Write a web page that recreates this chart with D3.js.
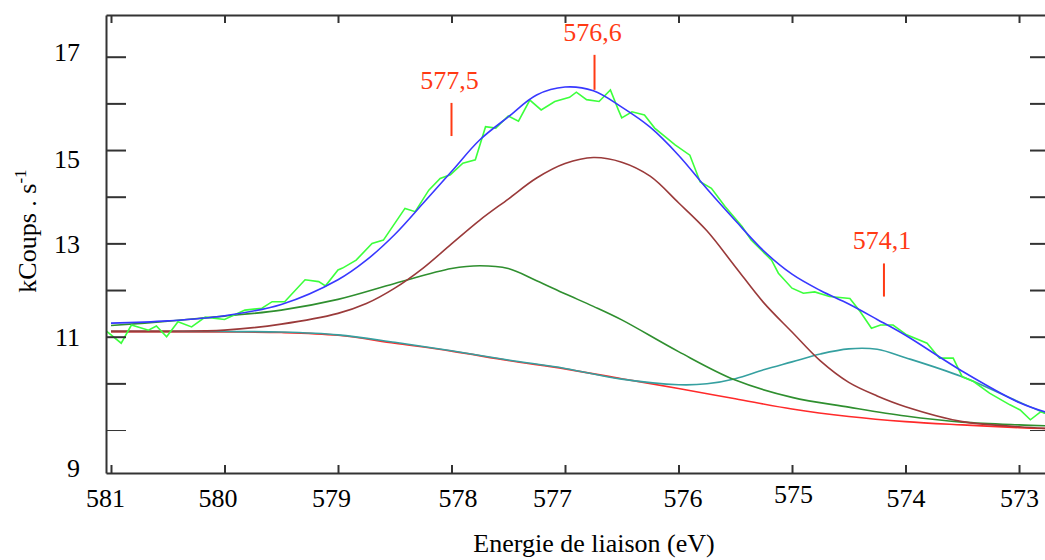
<!DOCTYPE html>
<html>
<head>
<meta charset="utf-8">
<script src="https://cdn.jsdelivr.net/npm/d3@7"></script>
<style>
  body { margin: 0; background: #fff; }
  svg text { font-family: "Liberation Serif", "Times New Roman", serif; }
</style>
</head>
<body>
<div id="chart"></div>
<script>
// XPS spectrum - fitted components (binding energy in eV, kCoups/s)

// raw measured spectrum
const dataEnergy = [581.04, 580.91, 580.82, 580.67, 580.60, 580.51, 580.41, 580.29, 580.17, 580.00,
    579.82, 579.67, 579.58, 579.47, 579.29, 579.17, 579.11, 579.00, 578.96, 578.84,
    578.70, 578.60, 578.41, 578.32, 578.20, 578.10, 578.01, 577.90, 577.79, 577.70,
    577.61, 577.50, 577.41, 577.31, 577.21, 577.09, 576.96, 576.90, 576.81, 576.70,
    576.60, 576.53, 576.50, 576.41, 576.30, 576.21, 576.03, 575.90, 575.81, 575.71,
    575.59, 575.44, 575.36, 575.18, 575.12, 575.00, 574.90, 574.80, 574.67, 574.49,
    574.40, 574.30, 574.22, 574.11, 573.99, 573.81, 573.70, 573.58, 573.50, 573.40,
    573.26, 573.08, 572.99, 572.90, 572.81, 572.77];
const dataCounts = [11.12, 10.86, 11.25, 11.14, 11.23, 11.00, 11.32, 11.21, 11.42, 11.37,
    11.57, 11.61, 11.75, 11.75, 12.22, 12.18, 12.09, 12.43, 12.47, 12.64,
    13.00, 13.07, 13.75, 13.68, 14.14, 14.39, 14.47, 14.72, 14.79, 15.50,
    15.47, 15.73, 15.62, 16.07, 15.86, 16.04, 16.13, 16.24, 16.08, 16.04,
    16.29, 15.86, 15.69, 15.82, 15.75, 15.47, 15.11, 14.89, 14.32, 14.18,
    13.79, 13.36, 13.07, 12.64, 12.36, 12.04, 11.93, 11.96, 11.86, 11.82,
    11.54, 11.18, 11.25, 11.25, 11.04, 10.86, 10.54, 10.54, 10.14, 10.04,
    9.79, 9.54, 9.43, 9.22, 9.39, 9.36];

// fitted envelope
const fitEnergy = [581, 580.5, 580, 579.5, 579, 578.75, 578.5, 578.25, 578, 577.75, 577.5, 577.25,
    577, 576.75, 576.5, 576.25, 576, 575.75, 575.5, 575.25, 575, 574.75, 574.5, 574.25,
    574, 573.5, 573, 572.73];
const fitCounts = [11.29, 11.34, 11.45, 11.69, 12.22, 12.64, 13.19, 13.86, 14.54, 15.22, 15.71, 16.18,
    16.35, 16.27, 15.92, 15.49, 14.89, 14.17, 13.49, 12.84, 12.34, 11.99, 11.70, 11.37,
    11.03, 10.26, 9.59, 9.36];

// component 576,6 (brown)
const peakBEnergy = [581, 580.5, 580, 579.5, 579, 578.75, 578.5, 578.25, 578, 577.75, 577.5, 577.25, 577,
    576.75, 576.5, 576.25, 576, 575.75, 575.5, 575.25, 575, 574.75, 574.5, 574.25, 574,
    573.5, 573, 572.73];
const peakBCounts = [11.12, 11.12, 11.14, 11.27, 11.50, 11.71, 12.04, 12.47, 12.99, 13.50, 13.95, 14.40, 14.71,
    14.84, 14.74, 14.44, 13.87, 13.27, 12.50, 11.73, 11.10, 10.48, 10.02, 9.73, 9.50,
    9.18, 9.07, 9.03];

// component 577,5 (dark green)
const peakAEnergy = [581, 580.5, 580, 579.5, 579, 578.5, 578, 577.75, 577.5, 577.25, 577, 576.75,
    576.5, 576, 575.5, 575, 574.5, 574, 573.5, 573, 572.73];
const peakACounts = [11.24, 11.33, 11.44, 11.57, 11.80, 12.14, 12.46, 12.52, 12.46, 12.20, 11.92, 11.65,
    11.36, 10.68, 10.07, 9.70, 9.49, 9.30, 9.17, 9.11, 9.09];

// component 574,1 (teal)
const peakCEnergy = [581, 580.5, 580, 579.5, 579, 578.5, 578, 577.5, 577, 576.5, 576, 575.75,
    575.5, 575.25, 575, 574.75, 574.5, 574.25, 574, 573.5, 573, 572.73];
const peakCCounts = [11.11, 11.11, 11.11, 11.10, 11.04, 10.88, 10.70, 10.50, 10.32, 10.09, 9.97, 9.99,
    10.10, 10.29, 10.46, 10.63, 10.74, 10.73, 10.55, 10.14, 9.60, 9.32];

// background (red)
const bgEnergy = [581, 580, 579.5, 579, 578.5, 578, 577.5, 577, 576.5, 576, 575.5, 575,
    574.5, 574, 573.5, 573, 572.73];
const bgCounts = [11.10, 11.10, 11.09, 11.03, 10.86, 10.69, 10.49, 10.31, 10.10, 9.89, 9.67, 9.45,
    9.29, 9.18, 9.11, 9.05, 9.03];

const xTicks = [581, 580, 579, 578, 577, 576, 575, 574, 573];
const yTicks = [9, 10, 11, 12, 13, 14, 15, 16, 17];
const yTickLabels = [9, 11, 13, 15, 17];

const annoLabels = ["577,5", "576,6", "574,1"];
const annoEnergy = [578.0, 576.74, 574.19];
const annoTop = [16.01, 17.04, 12.57];
const annoBottom = [15.30, 16.29, 11.86];

const width = 1045;
const height = 560;

const svg = d3.select("#chart").append("svg")
    .attr("width", width)
    .attr("height", height)
    .style("background", "#fff");

const x = d3.scaleLinear()
    .domain([581.044, 572.727])
    .range([106, 1050]);

const y = d3.scaleLinear()
    .domain([8.079, 17.894])
    .range([473, 15]);

// curves
const zip = (es, vs) => es.map((e, i) => ({ e, v: vs[i] }));

const smooth = d3.line()
    .x(d => x(d.e))
    .y(d => y(d.v))
    .curve(d3.curveCatmullRom.alpha(0.5));

const raw = d3.line()
    .x(d => x(d.e))
    .y(d => y(d.v));

const series = [
    { pts: zip(bgEnergy, bgCounts), color: "#ff2a2a", line: smooth },
    { pts: zip(peakCEnergy, peakCCounts), color: "#35a0a0", line: smooth },
    { pts: zip(peakAEnergy, peakACounts), color: "#2f8f2f", line: smooth },
    { pts: zip(peakBEnergy, peakBCounts), color: "#9a3a3a", line: smooth },
    { pts: zip(dataEnergy, dataCounts), color: "#3cff3c", line: raw },
    { pts: zip(fitEnergy, fitCounts), color: "#3838ff", line: smooth }
];

const plot = svg.append("g");

plot.selectAll("path.curve")
    .data(series)
    .join("path")
    .attr("class", "curve")
    .attr("d", d => d.line(d.pts))
    .attr("fill", "none")
    .attr("stroke", d => d.color)
    .attr("stroke-width", 1.6);

// axes
const axisColor = "#333";
const xOffsets = { 581: -6, 580: -7, 579: -7, 578: 6, 577: -13, 576: 4, 575: 1 };
const yOffsets = { 17: -5, 15: 9, 13: 1, 9: 38 };

const xAxis = svg.append("g")
    .attr("transform", `translate(0,473)`)
    .call(d3.axisBottom(x).tickValues(xTicks).tickSize(-8).tickSizeOuter(0).tickPadding(16));
xAxis.selectAll("text")
    .attr("dx", d => xOffsets[d] || 0)
    .attr("dy", d => d === 575 ? "0.52em" : "0.71em");

svg.append("g")
    .attr("transform", `translate(0,15)`)
    .call(d3.axisTop(x).tickValues(xTicks).tickSize(-8).tickSizeOuter(0).tickFormat(""));

const yAxis = svg.append("g")
    .attr("transform", `translate(106,0)`)
    .call(d3.axisLeft(y).tickValues(yTicks).tickSize(-20).tickSizeOuter(0).tickPadding(26)
        .tickFormat(d => yTickLabels.includes(d) ? d : ""));
yAxis.selectAll("text")
    .attr("y", d => yOffsets[d] || 0);

svg.append("g")
    .attr("transform", `translate(1050,0)`)
    .call(d3.axisRight(y).tickValues(yTicks).tickSize(-20).tickSizeOuter(0).tickFormat(""));

svg.selectAll(".domain")
    .attr("stroke", axisColor)
    .attr("stroke-width", 2);
svg.selectAll(".tick line")
    .attr("stroke", axisColor)
    .attr("stroke-width", d => d === 9 ? 1 : 2);
svg.selectAll(".tick text")
    .attr("fill", "#000")
    .style("font-size", "26px")
    .style("font-family", "'Liberation Serif', 'Times New Roman', serif");

// axis titles
svg.append("text")
    .attr("x", 594)
    .attr("y", 552)
    .attr("text-anchor", "middle")
    .style("font-size", "26px")
    .text("Energie de liaison (eV)");

const yTitle = svg.append("text")
    .attr("transform", "translate(36,231) rotate(-90)")
    .attr("text-anchor", "middle")
    .style("font-size", "26px");
yTitle.append("tspan").text("kCoups . s");
yTitle.append("tspan")
    .attr("dy", "-0.6em")
    .style("font-size", "17px")
    .text("-1");

// peak annotations
const anno = svg.append("g");
annoLabels.forEach((label, i) => {
    anno.append("line")
        .attr("x1", x(annoEnergy[i]))
        .attr("x2", x(annoEnergy[i]))
        .attr("y1", y(annoTop[i]))
        .attr("y2", y(annoBottom[i]))
        .attr("stroke", "#ff3a14")
        .attr("stroke-width", 2);
    anno.append("text")
        .attr("x", x(annoEnergy[i]) - 2)
        .attr("y", y(annoTop[i]) - 14)
        .attr("text-anchor", "middle")
        .attr("fill", "#ff3a14")
        .style("font-size", "26px")
        .text(label);
});
</script>
</body>
</html>
